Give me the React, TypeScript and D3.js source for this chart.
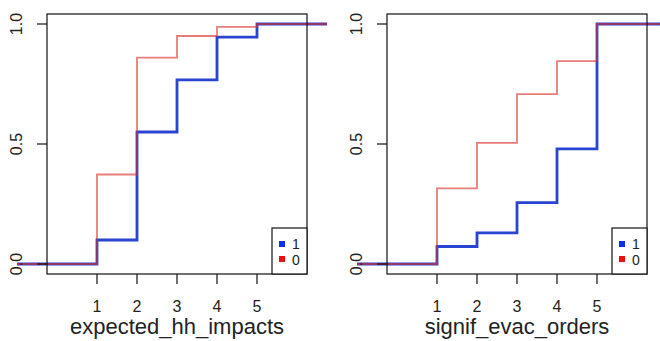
import React from "react";
import * as d3 from "d3";

const steps = [1, 2, 3, 4, 5];
const xTicks = ["1", "2", "3", "4", "5"];
const yTicks = [0, 0.5, 1];
const legendLabels = ["1", "0"];

const impactsGroup1 = [0.1, 0.55, 0.767, 0.945, 1.0];
const impactsGroup0 = [0.373, 0.86, 0.95, 0.988, 1.0];
const evacGroup1 = [0.073, 0.13, 0.256, 0.48, 1.0];
const evacGroup0 = [0.315, 0.505, 0.708, 0.845, 1.0];

const panels = [
  { title: "expected_hh_impacts", g1: impactsGroup1, g0: impactsGroup0, ox: 47 },
  { title: "signif_evac_orders", g1: evacGroup1, g0: evacGroup0, ox: 387 },
];

const W = 660;
const H = 341;
const boxTop = 14;
const boxW = 260;
const boxH = 260;
const FONT = "'Liberation Sans', Arial, Helvetica, sans-serif";
const BLUE = "#2a44d2";
const RED = "rgba(215,45,40,0.62)";

function Panel({ title, g1, g0, ox }: { title: string; g1: number[]; g0: number[]; ox: number }) {
  const x = d3.scaleLinear().domain([-0.25, 6.25]).range([0, boxW]);
  const y = d3.scaleLinear().domain([-1 / 24, 1 + 1 / 24]).range([boxH, 0]);
  const line = d3
    .line<[number, number]>()
    .x((d) => x(d[0]))
    .y((d) => y(d[1]))
    .curve(d3.curveStepAfter);
  const pts = (vals: number[]): [number, number][] => [
    [-1, 0],
    ...steps.map((s, i) => [s, vals[i]] as [number, number]),
    [6.75, 1],
  ];
  return (
    <g transform={`translate(${ox},${boxTop})`}>
      <path d={line(pts(g1)) || ""} fill="none" stroke={BLUE} strokeWidth={2.8} />
      <path d={line(pts(g0)) || ""} fill="none" stroke={RED} strokeWidth={1.8} />
      <rect x={0} y={0} width={boxW} height={boxH} fill="none" stroke="#111" strokeWidth={1.2} />
      {steps.map((s, i) => (
        <g key={s}>
          <line x1={x(s)} x2={x(s)} y1={boxH} y2={boxH + 10} stroke="#111" strokeWidth={1.2} />
          <text x={x(s)} y={boxH + 38} textAnchor="middle" fontFamily={FONT} fontSize={16} fill="#222">
            {xTicks[i]}
          </text>
        </g>
      ))}
      {yTicks.map((t) => (
        <g key={t}>
          <line x1={-10} x2={0} y1={y(t)} y2={y(t)} stroke="#111" strokeWidth={1.2} />
          <text
            transform={`translate(-25,${y(t)}) rotate(-90)`}
            textAnchor="middle"
            fontFamily={FONT}
            fontSize={16}
            fill="#222"
          >
            {d3.format(".1f")(t)}
          </text>
        </g>
      ))}
      <text x={boxW / 2} y={boxH + 60} textAnchor="middle" fontFamily={FONT} fontSize={22} fill="#222">
        {title}
      </text>
      <g transform={`translate(${boxW - 35},${boxH - 46})`}>
        <rect x={0} y={0} width={35} height={46} fill="white" stroke="#111" strokeWidth={1.2} />
        {legendLabels.map((l, i) => (
          <g key={l}>
            <rect x={7} y={13 + i * 15} width={6} height={6} fill={i === 0 ? "#1030e8" : "#e81010"} />
            <text x={20} y={21 + i * 15.5} fontFamily={FONT} fontSize={14} fill="#222">
              {l}
            </text>
          </g>
        ))}
      </g>
    </g>
  );
}

export default function App() {
  return (
    <svg width={W} height={H} style={{ position: "absolute", left: 0, top: 0, background: "white" }}>
      <rect width={W} height={H} fill="white" />
      {panels.map((p) => (
        <Panel key={p.title} {...p} />
      ))}
    </svg>
  );
}
